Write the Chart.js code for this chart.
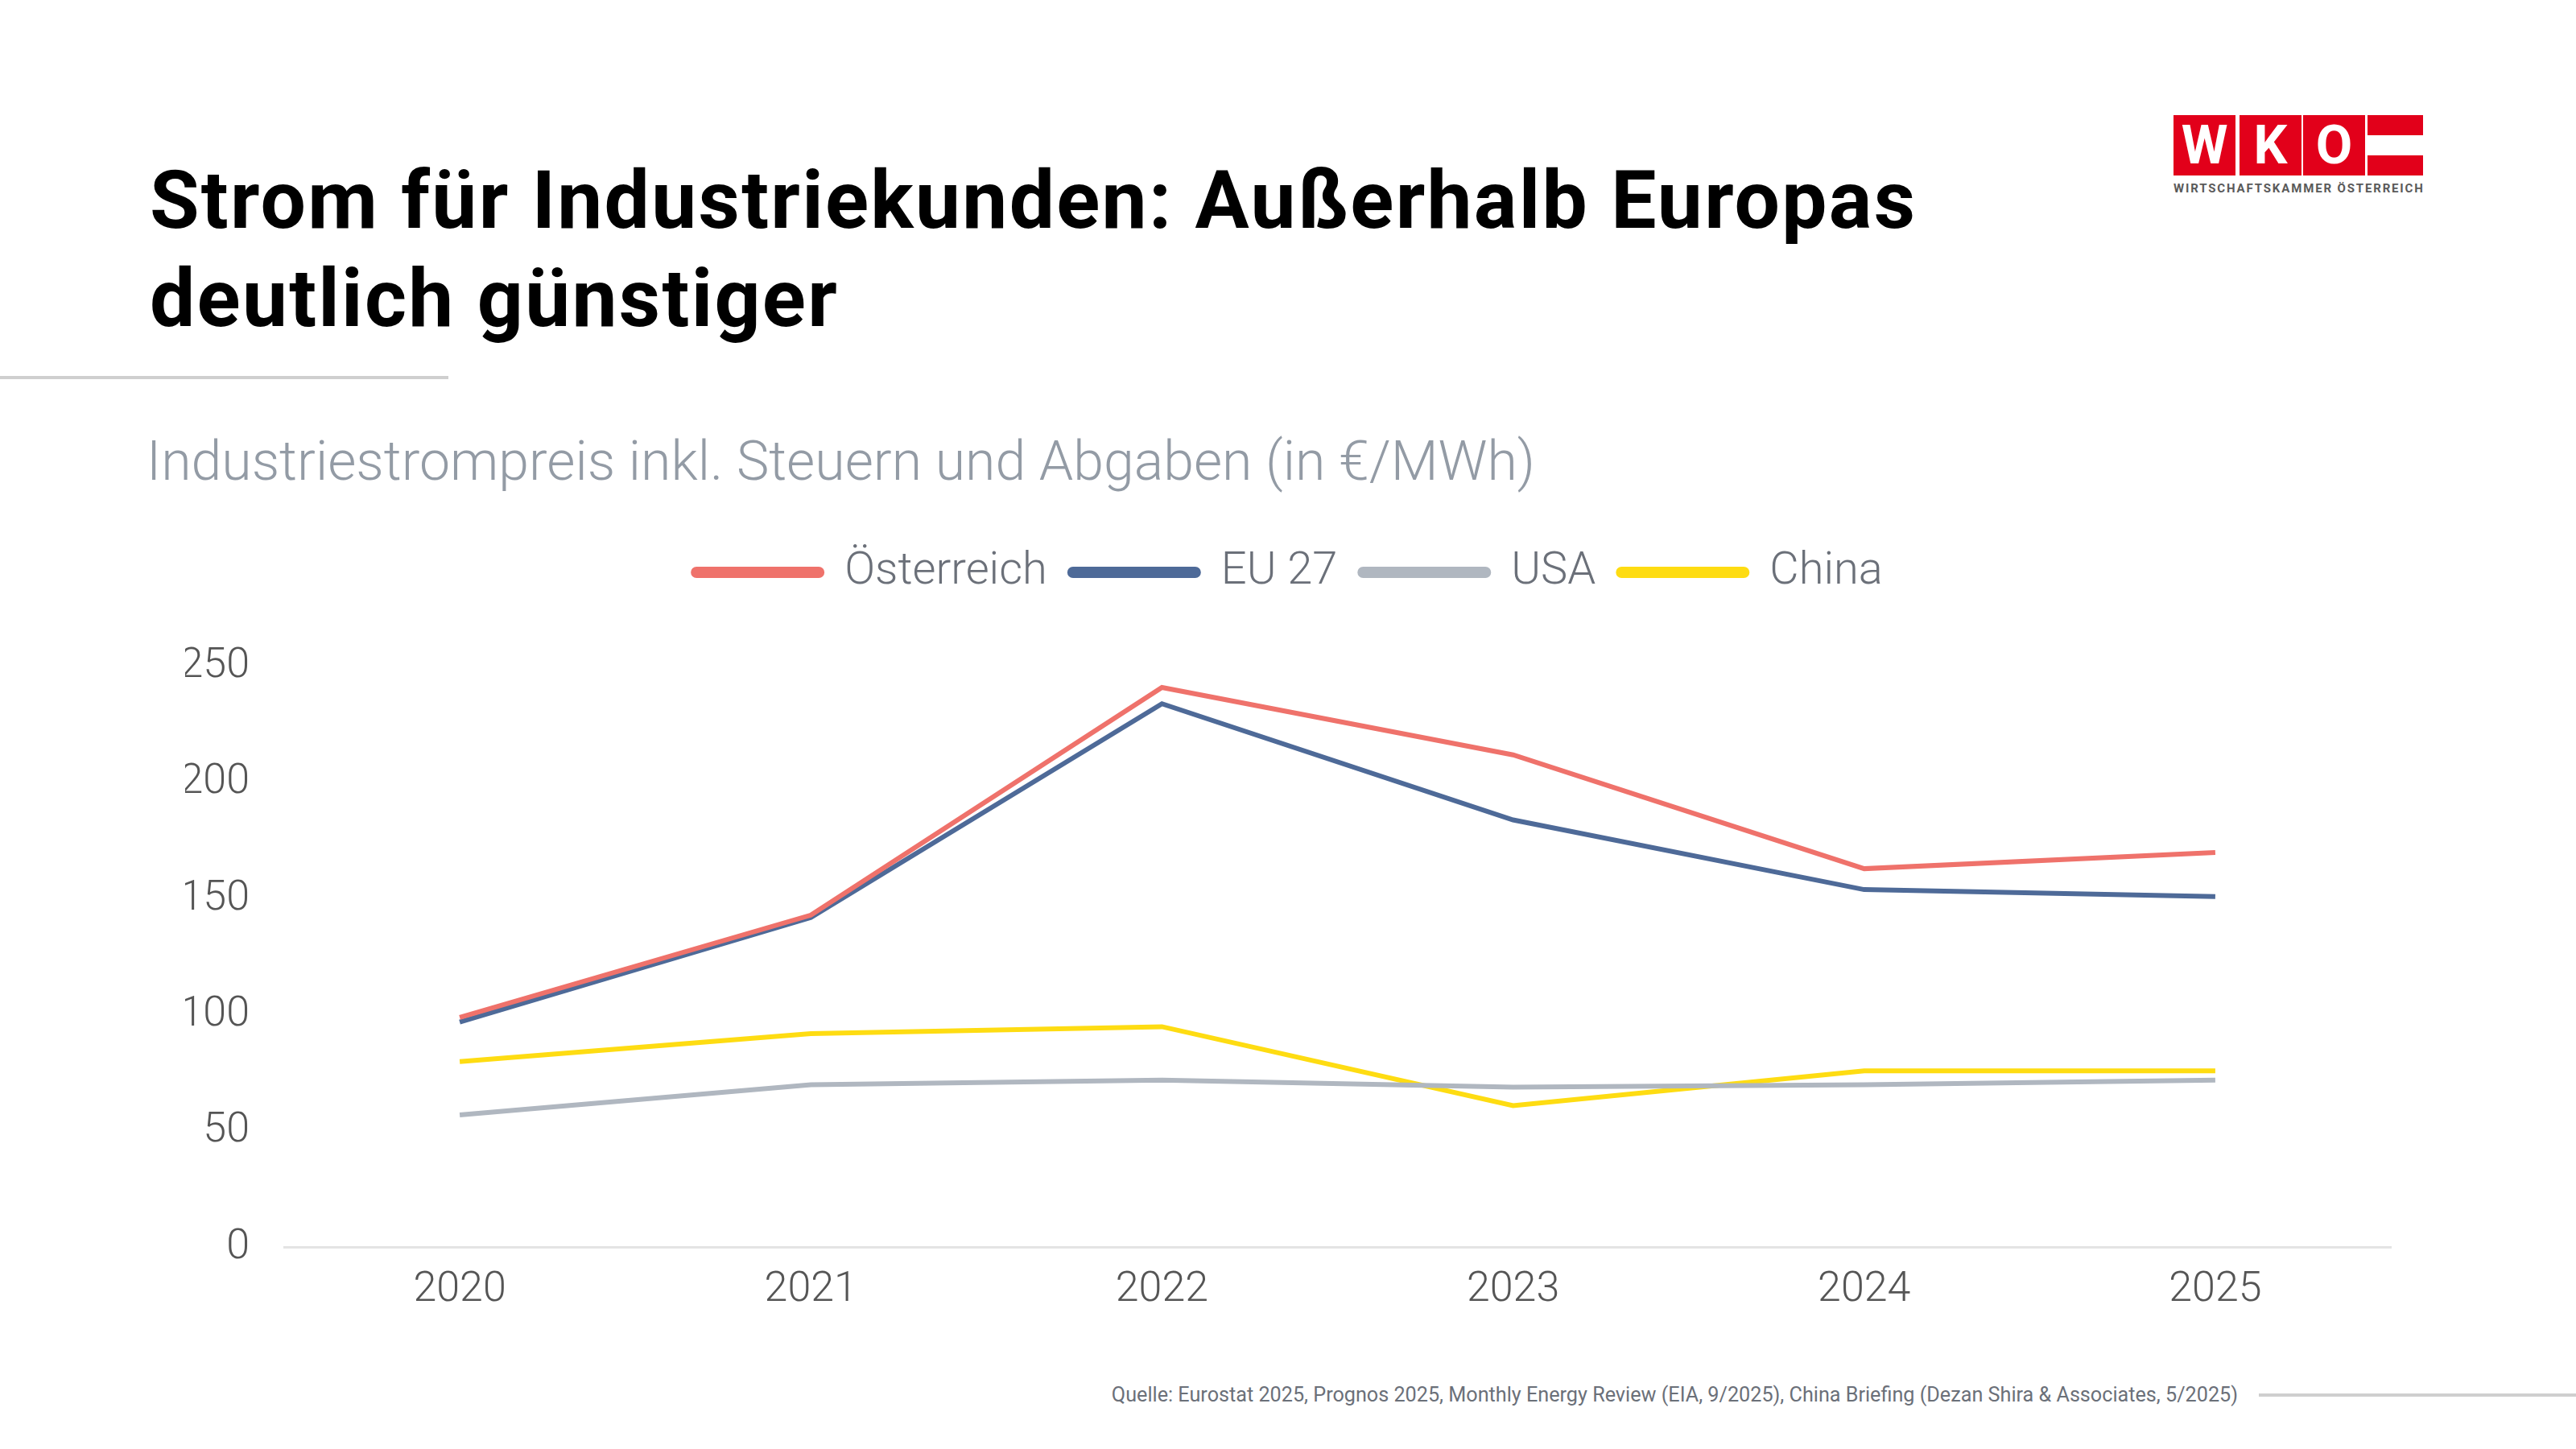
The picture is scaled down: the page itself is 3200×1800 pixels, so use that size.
<!DOCTYPE html>
<html>
<head>
<meta charset="utf-8">
<script src="https://cdn.jsdelivr.net/npm/chart.js@4.4.1/dist/chart.umd.min.js"></script>
<style>
  body { margin: 0; width: 3200px; height: 1800px; background: #fff; position: relative; overflow: hidden; font-family: Roboto, "DejaVu Sans", sans-serif; }
  .title { position: absolute; left: 186px; top: 188px; font-size: 100px; font-weight: 700; line-height: 122px; letter-spacing: 2.3px; color: #000; white-space: nowrap; }
  .rule { position: absolute; left: 0; top: 467px; width: 557px; height: 4px; background: #cfcfcf; }
  .subtitle { position: absolute; left: 182px; top: 533px; font-size: 68px; font-weight: 300; color: #939ba5; white-space: nowrap; }
  .logo { position: absolute; left: 2700px; top: 143px; }
  .logo .box { position: absolute; top: 0; width: 77px; height: 75px; background: #e2001a; color: #fff; font-weight: 700; font-size: 66px; line-height: 75px; text-align: center; }
  .logo .flag { position: absolute; left: 241px; top: 0; width: 69px; height: 75px; background: linear-gradient(#e2001a 0 33%, #fff 33% 67%, #e2001a 67%); }
  .logo .name { position: absolute; left: 0; top: 82px; width: 310px; font-size: 15px; font-weight: 700; color: #5a5a5a; letter-spacing: 1.85px; white-space: nowrap; }
  .source { position: absolute; right: 420px; top: 1718px; font-size: 25.2px; color: #6b7079; white-space: nowrap; }
  .srcrule { position: absolute; left: 2806px; top: 1731px; width: 394px; height: 4px; background: #cfcfcf; }
  #wrap { position: absolute; left: 0; top: 635px; width: 3200px; height: 1051px; }
</style>
</head>
<body>
<div class="title">Strom für Industriekunden: Außerhalb Europas<br>deutlich günstiger</div>
<div class="rule"></div>
<div class="subtitle">Industriestrompreis inkl. Steuern und Abgaben (in €/MWh)</div>
<div class="logo">
  <div class="box" style="left:0">W</div>
  <div class="box" style="left:82px">K</div>
  <div class="box" style="left:161px">O</div>
  <div class="flag"></div>
  <div class="name">WIRTSCHAFTSKAMMER ÖSTERREICH</div>
</div>
<div class="source">Quelle: Eurostat 2025, Prognos 2025, Monthly Energy Review (EIA, 9/2025), China Briefing (Dezan Shira &amp; Associates, 5/2025)</div>
<div class="srcrule"></div>
<div id="wrap"><canvas id="chart"></canvas></div>
<script>
const years = ["2020", "2021", "2022", "2023", "2024", "2025"];
const oesterreich = [99, 143, 241, 212, 163, 170];
const eu27 = [97, 142, 234, 184, 154, 151];
const usa = [57, 70, 72, 69, 70, 72];
const china = [80, 92, 95, 61, 76, 76];
const yTicks = [0, 50, 100, 150, 200, 250];

const ctx = document.getElementById("chart").getContext("2d");

function line(label, data, color) {
    return {
        label: label,
        data: data,
        borderColor: color,
        backgroundColor: color,
        borderWidth: 6,
        pointRadius: 0,
        tension: 0,
        fill: false
    };
}

// extra space between legend and plot
const legendGap = {
    id: "legendGap",
    beforeInit(chart) {
        const fit = chart.legend.fit;
        chart.legend.fit = function () {
            fit.bind(chart.legend)();
            this.height += 79;
        };
    }
};

new Chart(ctx, {
    type: "line",
    data: {
        labels: years,
        datasets: [
            line("Österreich", oesterreich, "#ef726b"),
            line("EU 27", eu27, "#4e6a98"),
            line("USA", usa, "#b0b7c0"),
            line("China", china, "#fedc12")
        ]
    },
    options: {
        responsive: true,
        maintainAspectRatio: false,
        animation: false,
        layout: { padding: { left: 230, right: 230, top: 20, bottom: 30 } },
        plugins: {
            legend: {
                position: "top",
                labels: {
                    boxWidth: 160,
                    boxHeight: 8,
                    useBorderRadius: true,
                    borderRadius: 4,
                    padding: 28,
                    color: "#6b7079",
                    font: { family: "Roboto", size: 56, weight: "300" }
                }
            },
            tooltip: { enabled: false }
        },
        scales: {
            x: {
                offset: true,
                grid: { display: false, drawTicks: false },
                border: { display: true, color: "#e4e4e4", width: 3 },
                ticks: {
                    padding: 22,
                    color: "#555",
                    font: { family: "Roboto", size: 52, weight: "300" }
                }
            },
            y: {
                min: 0,
                max: 250,
                afterBuildTicks: function (scale) {
                    scale.ticks = yTicks.map(v => ({ value: v }));
                },
                afterFit: function (scale) {
                    scale.width = 123;
                },
                grid: { display: false, drawTicks: false },
                border: { display: false },
                ticks: {
                    padding: 43,
                    color: "#555",
                    font: { family: "Roboto", size: 52, weight: "300" }
                }
            }
        }
    },
    plugins: [legendGap]
});
</script>
</body>
</html>
